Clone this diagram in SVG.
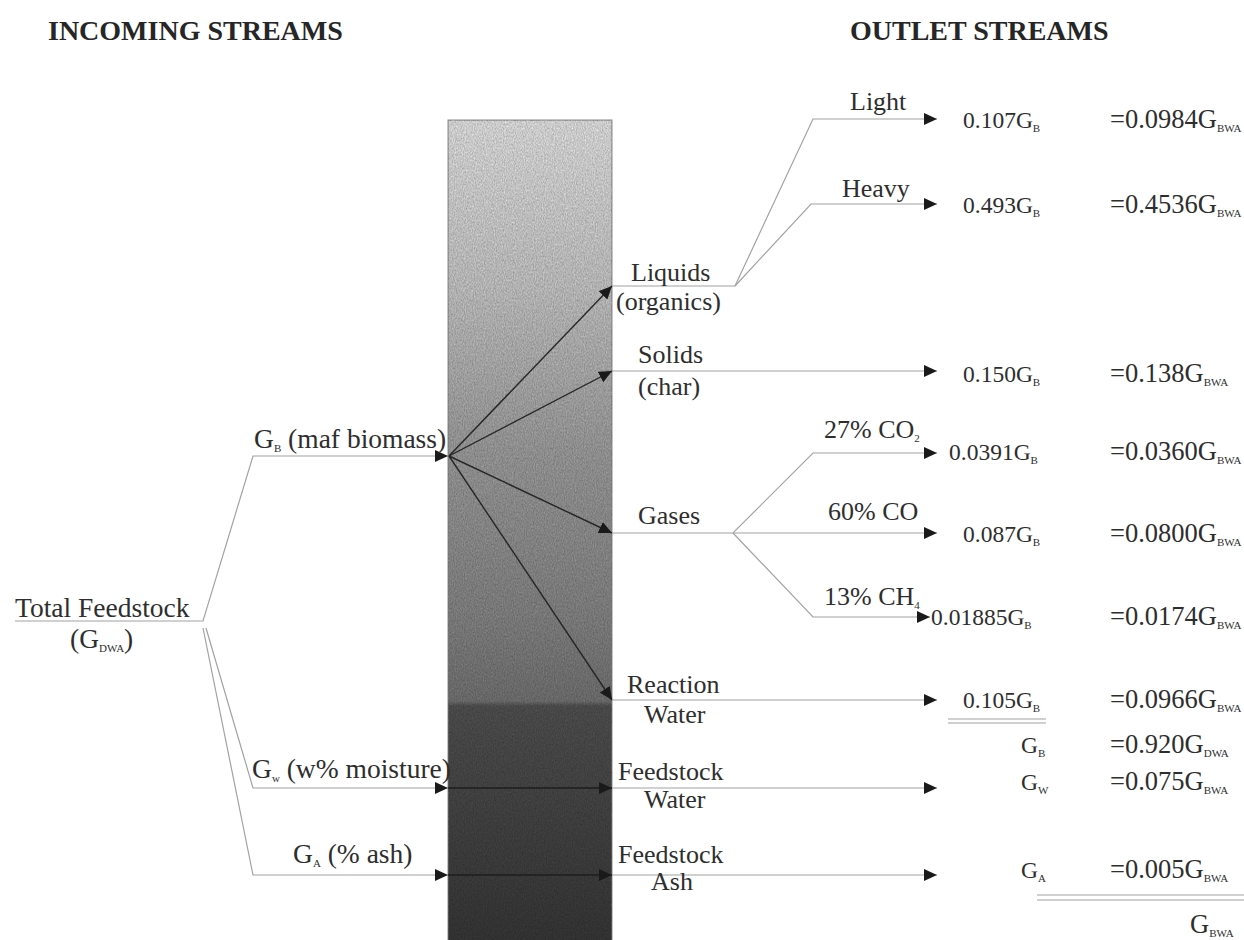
<svg xmlns="http://www.w3.org/2000/svg" width="1244" height="940" viewBox="0 0 1244 940">
  <style>
    text { font-family: "Liberation Serif", "Times New Roman", serif; font-size: 26px; fill: #2e2e2e; }
    .hdr { font-weight: bold; font-size: 28px; fill: #262626; }
    .in { font-size: 27.5px; }
    .val { font-size: 23.5px; }
    .eq { font-size: 26.5px; }
    .sub { font-size: 11px; }
    .ln { stroke: #a2a2a2; stroke-width: 1.2; fill: none; }
    .fan { stroke: #262626; stroke-width: 1.4; fill: none; }
    .thru { stroke: #1e1e1e; stroke-width: 1.3; fill: none; }
  </style>
  <defs>
    <marker id="ah" markerUnits="userSpaceOnUse" markerWidth="14" markerHeight="12" refX="13" refY="6" orient="auto">
      <path d="M0,0 L13,6 L0,12 z" fill="#1a1a1a"/>
    </marker>
    <linearGradient id="shade" x1="0" y1="0" x2="0" y2="1">
      <stop offset="0" stop-color="#f6f6f6"/>
      <stop offset="0.2" stop-color="#d6d6d6"/>
      <stop offset="0.4" stop-color="#aaaaaa"/>
      <stop offset="0.6" stop-color="#8f8f8f"/>
      <stop offset="0.7" stop-color="#7c7c7c"/>
      <stop offset="0.706" stop-color="#575757"/>
      <stop offset="1" stop-color="#3a3a3a"/>
    </linearGradient>
    <filter id="grain" x="0" y="0" width="1" height="1">
      <feTurbulence type="fractalNoise" baseFrequency="0.9 0.5" numOctaves="2" seed="4"/>
      <feColorMatrix type="matrix" values="0 0 0 0 0  0 0 0 0 0  0 0 0 0 0  0 0 0 0.35 0"/>
      <feComposite in2="SourceGraphic" operator="in"/>
    </filter>
  </defs>

  <rect width="1244" height="940" fill="#ffffff"/>

  <!-- headings -->
  <text class="hdr" x="48" y="40">INCOMING STREAMS</text>
  <text class="hdr" x="850" y="40">OUTLET  STREAMS</text>

  <!-- reactor column -->
  <g id="reactor">
    <rect x="448" y="120" width="164" height="830" fill="url(#shade)" stroke="#8a8a8a" stroke-width="1"/>
    <rect x="448" y="120" width="164" height="830" fill="#000" filter="url(#grain)"/>
  </g>

  <!-- connectors -->
  <g id="connectors">
    <!-- feed split -->
    <path class="ln" d="M15,621 H203 L253,456 H448" marker-end="url(#ah)"/>
    <path class="ln" d="M206,628 L253,788 H448" marker-end="url(#ah)"/>
    <path class="ln" d="M203,628 L253,875 H448" marker-end="url(#ah)"/>
    <!-- fan inside the column -->
    <path class="fan" d="M449,456 L612,286" marker-end="url(#ah)"/>
    <path class="fan" d="M449,456 L612,371" marker-end="url(#ah)"/>
    <path class="fan" d="M449,456 L612,533" marker-end="url(#ah)"/>
    <path class="fan" d="M449,456 L612,700" marker-end="url(#ah)"/>
    <path class="thru" d="M448,788 H612" marker-end="url(#ah)"/>
    <path class="thru" d="M448,875 H612" marker-end="url(#ah)"/>
    <!-- liquids -->
    <path class="ln" d="M612,286 H735 L813,119 H937" marker-end="url(#ah)"/>
    <path class="ln" d="M735,286 L811,204 H937" marker-end="url(#ah)"/>
    <!-- solids -->
    <path class="ln" d="M612,371 H937" marker-end="url(#ah)"/>
    <!-- gases -->
    <path class="ln" d="M612,533 H733 L813,453 H937" marker-end="url(#ah)"/>
    <path class="ln" d="M733,533 H937" marker-end="url(#ah)"/>
    <path class="ln" d="M733,533 L813,617 H930" marker-end="url(#ah)"/>
    <!-- waters and ash -->
    <path class="ln" d="M612,700 H937" marker-end="url(#ah)"/>
    <path class="ln" d="M612,788 H937" marker-end="url(#ah)"/>
    <path class="ln" d="M612,875 H937" marker-end="url(#ah)"/>
    <!-- totals -->
    <path class="ln" d="M948,719 H1046 M948,723 H1046"/>
    <path class="ln" d="M1037,895 H1244 M1037,900 H1244"/>
  </g>

  <!-- incoming -->
  <g id="feed">
    <text class="in" x="15" y="617">Total Feedstock</text>
    <text class="in" x="70" y="648">(G<tspan class="sub" dy="4">DWA</tspan><tspan dy="-4">)</tspan></text>
  </g>
  <g id="biomass">
    <text class="in" x="254" y="448">G<tspan class="sub" dy="4">B</tspan><tspan dy="-4"> (maf biomass)</tspan></text>
  </g>
  <g id="moisture">
    <text class="in" x="252" y="778">G<tspan class="sub" dy="4">w</tspan><tspan dy="-4"> (w% moisture)</tspan></text>
  </g>
  <g id="ash">
    <text class="in" x="293" y="863">G<tspan class="sub" dy="4">A</tspan><tspan dy="-4"> (% ash)</tspan></text>
  </g>

  <!-- products -->
  <g id="liquids">
    <text x="631" y="281">Liquids</text>
    <text x="616" y="310">(organics)</text>
  </g>
  <g id="light">
    <text x="850" y="110">Light</text>
    <text class="val" x="963" y="128">0.107G<tspan class="sub" dy="4">B</tspan></text>
    <text class="eq" x="1110" y="128">=0.0984G<tspan class="sub" dy="4">BWA</tspan></text>
  </g>
  <g id="heavy">
    <text x="842" y="197">Heavy</text>
    <text class="val" x="963" y="213">0.493G<tspan class="sub" dy="4">B</tspan></text>
    <text class="eq" x="1110" y="213">=0.4536G<tspan class="sub" dy="4">BWA</tspan></text>
  </g>
  <g id="solids">
    <text x="638" y="363">Solids</text>
    <text x="638" y="395">(char)</text>
    <text class="val" x="963" y="382">0.150G<tspan class="sub" dy="4">B</tspan></text>
    <text class="eq" x="1110" y="382">=0.138G<tspan class="sub" dy="4">BWA</tspan></text>
  </g>
  <g id="gases">
    <text x="638" y="524">Gases</text>
  </g>
  <g id="co2">
    <text x="824" y="438">27% CO<tspan class="sub" dy="4">2</tspan></text>
    <text class="val" x="949" y="460">0.0391G<tspan class="sub" dy="4">B</tspan></text>
    <text class="eq" x="1110" y="460">=0.0360G<tspan class="sub" dy="4">BWA</tspan></text>
  </g>
  <g id="co">
    <text x="828" y="520">60% CO</text>
    <text class="val" x="963" y="542">0.087G<tspan class="sub" dy="4">B</tspan></text>
    <text class="eq" x="1110" y="542">=0.0800G<tspan class="sub" dy="4">BWA</tspan></text>
  </g>
  <g id="ch4">
    <text x="824" y="605">13% CH<tspan class="sub" dy="4">4</tspan></text>
    <text class="val" x="931" y="625">0.01885G<tspan class="sub" dy="4">B</tspan></text>
    <text class="eq" x="1110" y="625">=0.0174G<tspan class="sub" dy="4">BWA</tspan></text>
  </g>
  <g id="reaction-water">
    <text x="627" y="693">Reaction</text>
    <text x="644" y="723">Water</text>
    <text class="val" x="963" y="708">0.105G<tspan class="sub" dy="4">B</tspan></text>
    <text class="eq" x="1110" y="708">=0.0966G<tspan class="sub" dy="4">BWA</tspan></text>
    <text class="val" x="1021" y="753">G<tspan class="sub" dy="4">B</tspan></text>
    <text class="eq" x="1110" y="753">=0.920G<tspan class="sub" dy="4">DWA</tspan></text>
  </g>
  <g id="feedstock-water">
    <text x="618" y="780">Feedstock</text>
    <text x="644" y="808">Water</text>
    <text class="val" x="1021" y="790">G<tspan class="sub" dy="4">W</tspan></text>
    <text class="eq" x="1110" y="790">=0.075G<tspan class="sub" dy="4">BWA</tspan></text>
  </g>
  <g id="feedstock-ash">
    <text x="618" y="863">Feedstock</text>
    <text x="651" y="890">Ash</text>
    <text class="val" x="1021" y="878">G<tspan class="sub" dy="4">A</tspan></text>
    <text class="eq" x="1110" y="878">=0.005G<tspan class="sub" dy="4">BWA</tspan></text>
  </g>
  <g id="total">
    <text class="eq" x="1190" y="933">G<tspan class="sub" dy="4">BWA</tspan></text>
  </g>
</svg>
